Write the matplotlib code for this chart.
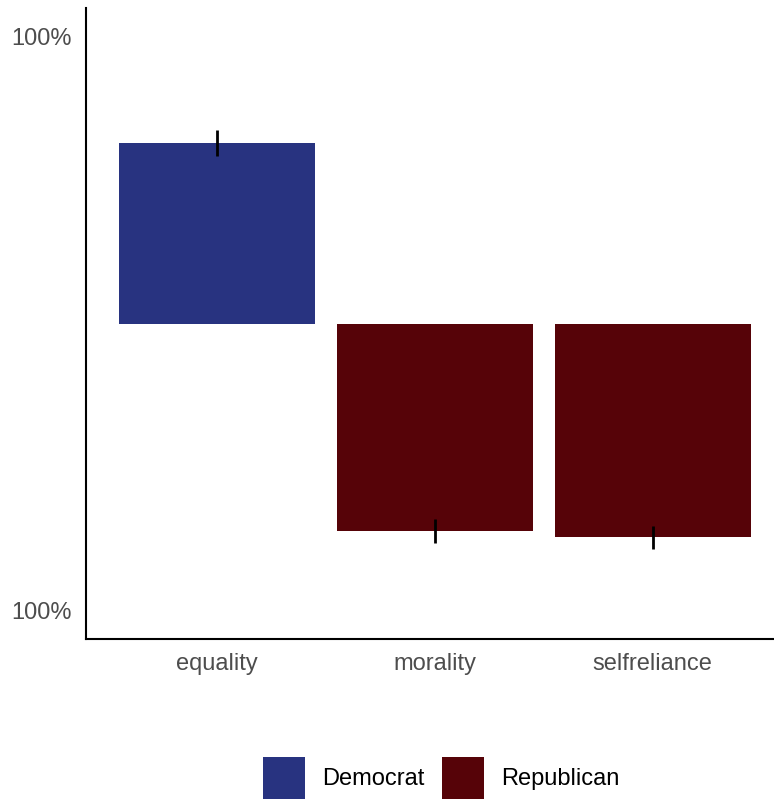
import matplotlib
matplotlib.use("Agg")
import matplotlib.pyplot as plt
from matplotlib.patches import Patch
from matplotlib.ticker import FuncFormatter

# Share of responses per value frame, signed by party (up = Democrat, down = Republican)
categories = ["equality", "morality", "selfreliance"]
parties = ["Democrat", "Republican"]
bar_party = ["Democrat", "Republican", "Republican"]
values = [0.629, -0.724, -0.745]
err_low = [0.584, -0.765, -0.786]
err_high = [0.675, -0.682, -0.706]
y_ticks = [-1.0, 1.0]

colors = {"Democrat": "#283380", "Republican": "#560308"}

plt.rcParams["font.family"] = ["Liberation Sans", "DejaVu Sans"]

fig = plt.figure(figsize=(7.74, 7.99), dpi=100)
W, H = 774, 799
ax = fig.add_axes([86 / W, (H - 639) / H, 688 / W, 631 / H])

x = list(range(1, len(categories) + 1))
ax.bar(x, values, width=0.9, color=[colors[p] for p in bar_party], zorder=2)
for xi, lo, hi in zip(x, err_low, err_high):
    ax.vlines(xi, lo, hi, color="black", linewidth=2.0, zorder=3)

ax.set_xlim(0.4, 0.4 + 688 / 218)
ax.set_ylim(-1.1, 1.1)
ax.set_xticks(x)
ax.set_xticklabels(categories)
ax.set_yticks(y_ticks)
ax.yaxis.set_major_formatter(FuncFormatter(lambda v, _: f"{abs(v) * 100:.0f}%"))

ax.tick_params(axis="both", length=0, labelsize=17, labelcolor="#4D4D4D")
ax.tick_params(axis="x", pad=10)
ax.tick_params(axis="y", pad=10)
for side in ("top", "right"):
    ax.spines[side].set_visible(False)
for side in ("left", "bottom"):
    ax.spines[side].set_linewidth(1.5)
    ax.spines[side].set_color("black")

handles = [Patch(facecolor=colors[p], edgecolor="none", label=p) for p in parties]
fig.legend(handles=handles, loc="center", bbox_to_anchor=(441 / W, 1 - 778 / H),
           ncol=2, frameon=False, fontsize=17, handlelength=1.8, handleheight=2.3,
           handletextpad=0.7, columnspacing=0.75, borderaxespad=0, borderpad=0)

fig.savefig("out.png", dpi=100)
